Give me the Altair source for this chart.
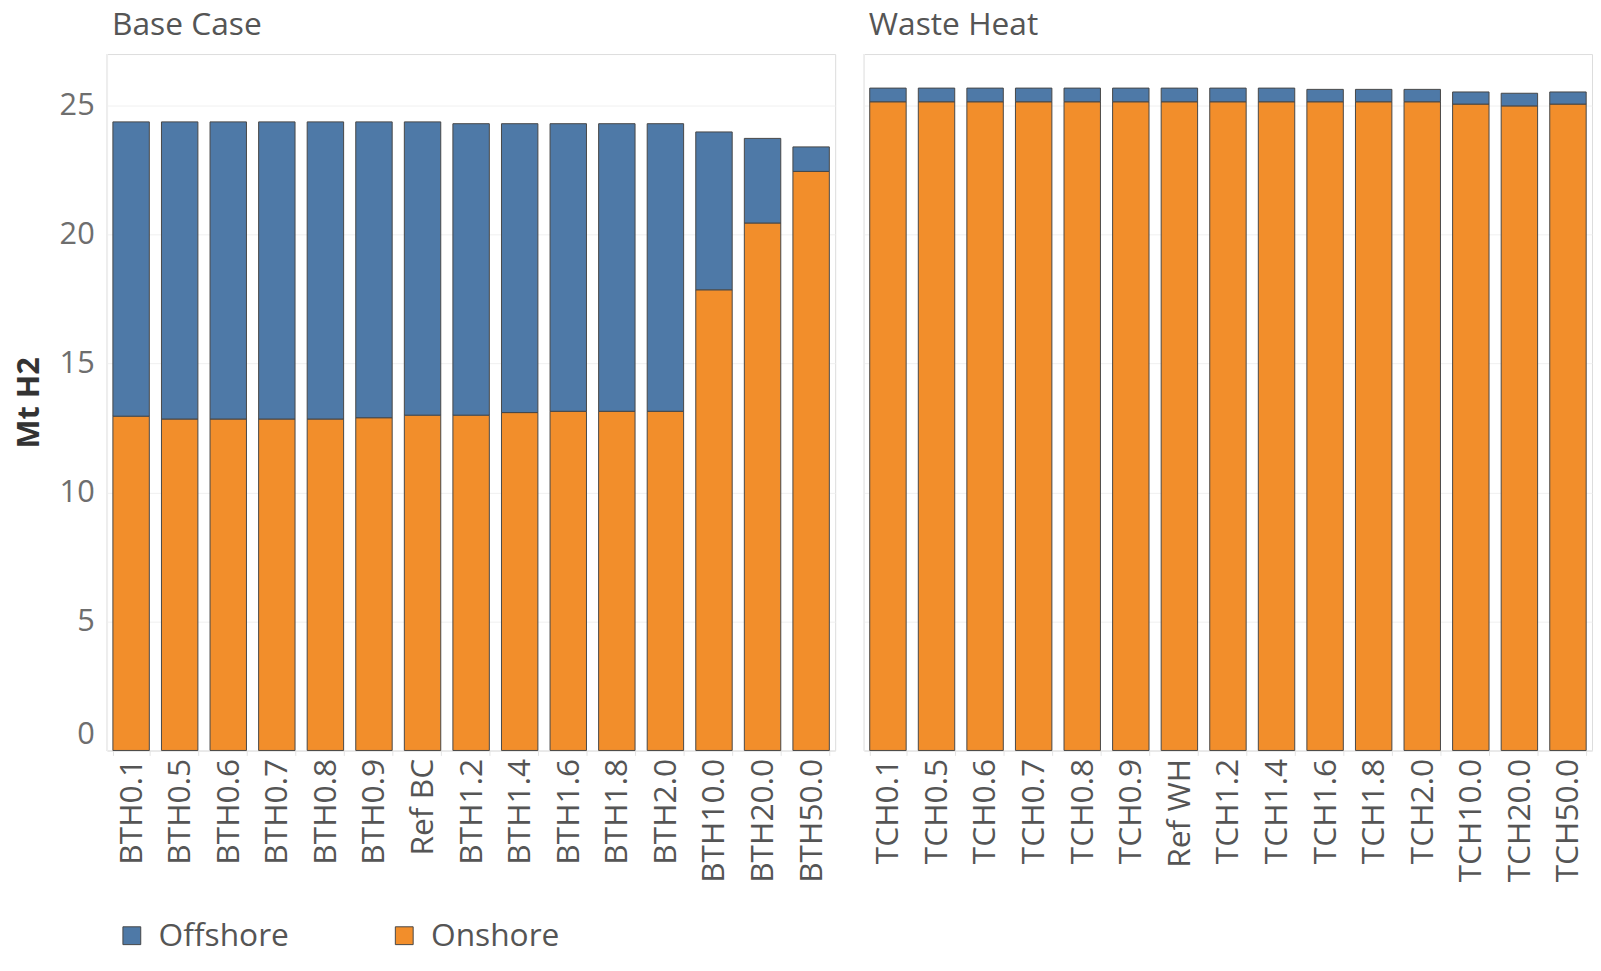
import altair as alt
import pandas as pd

base_categories = ["BTH0.1", "BTH0.5", "BTH0.6", "BTH0.7", "BTH0.8", "BTH0.9", "Ref BC",
                   "BTH1.2", "BTH1.4", "BTH1.6", "BTH1.8", "BTH2.0", "BTH10.0", "BTH20.0", "BTH50.0"]
base_onshore = [12.96, 12.85, 12.85, 12.85, 12.85, 12.90, 13.00,
                13.00, 13.10, 13.15, 13.15, 13.15, 17.86, 20.45, 22.45]
base_offshore = [11.41, 11.52, 11.52, 11.52, 11.52, 11.47, 11.37,
                 11.30, 11.20, 11.15, 11.15, 11.15, 6.12, 3.28, 0.95]

waste_categories = ["TCH0.1", "TCH0.5", "TCH0.6", "TCH0.7", "TCH0.8", "TCH0.9", "Ref WH",
                    "TCH1.2", "TCH1.4", "TCH1.6", "TCH1.8", "TCH2.0", "TCH10.0", "TCH20.0", "TCH50.0"]
waste_onshore = [25.15, 25.15, 25.15, 25.15, 25.15, 25.15, 25.15,
                 25.15, 25.15, 25.15, 25.15, 25.15, 25.06, 24.99, 25.06]
waste_offshore = [0.53, 0.53, 0.53, 0.53, 0.53, 0.53, 0.53,
                  0.53, 0.53, 0.48, 0.48, 0.48, 0.47, 0.49, 0.47]

series = ["Offshore", "Onshore"]
colors = ["#4e79a7", "#f28e2b"]
y_ticks = [0, 5, 10, 15, 20, 25]


def make_df(cats, on, off):
    rows = []
    for i, c in enumerate(cats):
        rows.append({"scenario": c, "idx": i, "type": "Onshore", "ord": 0, "value": on[i]})
        rows.append({"scenario": c, "idx": i, "type": "Offshore", "ord": 1, "value": off[i]})
    return pd.DataFrame(rows)


FONT = "Open Sans"
H = 703
W = 735


def panel(df, title, show_y):
    if show_y:
        yaxis = alt.Axis(title="Mt H2", values=y_ticks, grid=True,
                         gridColor="#f0f0f0", domain=False, ticks=False,
                         labelFontSize=31, labelColor="#6e6e6e", labelFont=FONT,
                         labelPadding=13,
                         labelBaseline={"condition": {"test": "datum.value == 0", "value": "bottom"},
                                        "value": "middle"},
                         titleFontSize=31, titleFont=FONT,
                         titleFontWeight="bold", titleColor="#333333", titlePadding=14)
    else:
        yaxis = alt.Axis(title=None, values=y_ticks, grid=True, gridColor="#f0f0f0",
                         domain=False, ticks=False, labels=False)
    bars = alt.Chart(df).mark_bar(stroke="#474747", strokeWidth=1).encode(
        x=alt.X("scenario:N",
                sort=alt.EncodingSortField(field="idx", op="min"),
                scale=alt.Scale(paddingInner=0.25, paddingOuter=0.12),
                axis=alt.Axis(title=None, labelAngle=-90, labelFontSize=32, labelColor="#555555",
                              labelFont=FONT, domainColor="#e4e4e4", tickColor="#e4e4e4",
                              tickBand="extent", tickSize=5, labelPadding=3, grid=False)),
        y=alt.Y("value:Q", stack="zero",
                scale=alt.Scale(domain=[0, 27], nice=False),
                axis=yaxis),
        color=alt.Color("type:N",
                        scale=alt.Scale(domain=series, range=colors),
                        legend=alt.Legend(title=None, orient="none", direction="horizontal",
                                          legendX=9, legendY=874, padding=0,
                                          symbolType="square", symbolSize=324,
                                          symbolStrokeColor="#474747", symbolStrokeWidth=1,
                                          labelFontSize=32, labelFont=FONT, labelColor="#555555",
                                          labelOffset=11, columnPadding=100)),
        order=alt.Order("ord:Q", sort="ascending"),
    )
    border = alt.Chart(df).mark_rule(color="#eeeeee", strokeWidth=1).encode(
        x=alt.value(0), y=alt.value(0), y2=alt.value(H)
    )
    return alt.layer(bars, border).properties(
        width=W, height=H,
        title=alt.TitleParams(title, anchor="start", frame="group", fontSize=32, font=FONT,
                              fontWeight="normal", color="#555555", offset=12, dx=5),
    )


left = panel(make_df(base_categories, base_onshore, base_offshore), "Base Case", True)
right = panel(make_df(waste_categories, waste_onshore, waste_offshore), "Waste Heat", False)

chart = alt.hconcat(left, right, spacing=11).resolve_scale(
    y="shared", color="shared"
).resolve_legend(color="shared").properties(
    padding={"left": 5, "top": -4, "right": 0, "bottom": 0}
).configure_view(stroke=None).configure(background="white")

chart.save("out.html", embed_options={"renderer": "svg", "actions": False})
